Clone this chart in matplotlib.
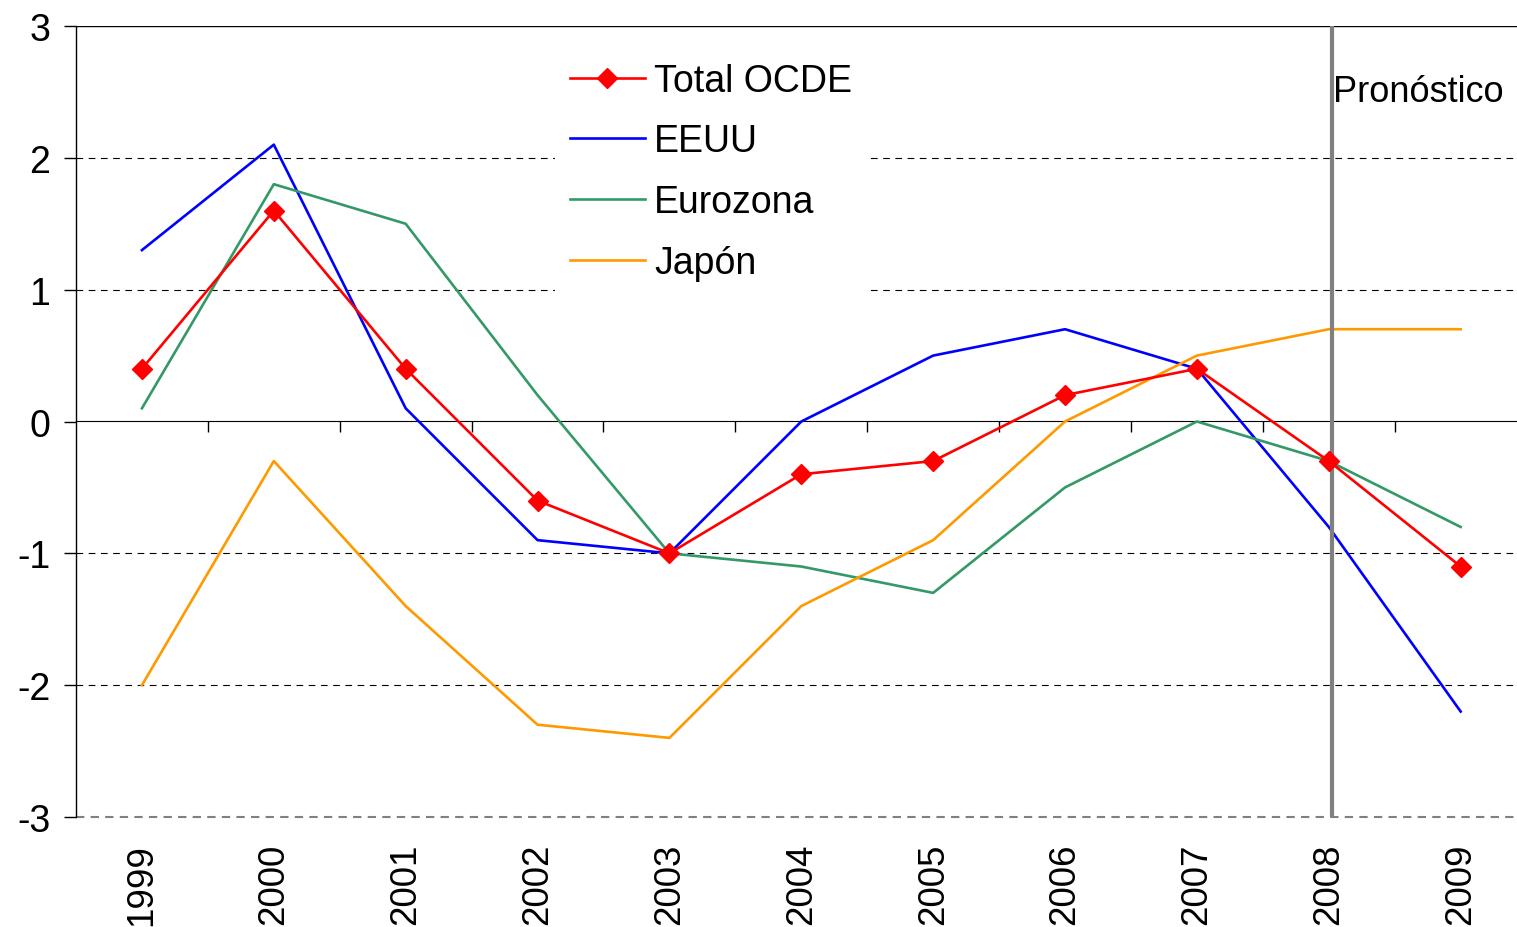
import matplotlib
matplotlib.use("Agg")
import matplotlib.pyplot as plt

years = ["1999", "2000", "2001", "2002", "2003", "2004", "2005", "2006", "2007", "2008", "2009"]
total_ocde = [0.4, 1.6, 0.4, -0.6, -1.0, -0.4, -0.3, 0.2, 0.4, -0.3, -1.1]
eeuu = [1.3, 2.1, 0.1, -0.9, -1.0, 0.0, 0.5, 0.7, 0.4, -0.8, -2.2]
eurozona = [0.1, 1.8, 1.5, 0.2, -1.0, -1.1, -1.3, -0.5, 0.0, -0.3, -0.8]
japon = [-2.0, -0.3, -1.4, -2.3, -2.4, -1.4, -0.9, 0.0, 0.5, 0.7, 0.7]
forecast_year = "2008"

plt.rcParams['font.family'] = ['Liberation Sans', 'DejaVu Sans']

W, H = 1517, 928
fig = plt.figure(figsize=(W / 100, H / 100), dpi=100)
ax = fig.add_axes([76 / W, 1 - 818 / H, 1450.6 / W, 791 / H])

x = list(range(len(years)))
ax.set_xlim(-0.5, len(years) - 0.5)
ax.set_ylim(-3, 3)

# grid lines
for v in [2, 1, -1, -2]:
    ax.axhline(v, color='black', lw=0.8, ls=(0, (6, 5)), zorder=1)
ax.axhline(3, color='black', lw=1.0, zorder=1)
ax.axhline(-3, color='#808080', lw=1.5, ls=(0, (4, 3)), zorder=1, clip_on=False)

ln1, = ax.plot(x, total_ocde, color='#FF0000', lw=1.9, marker='D', ms=10, zorder=6, label='Total OCDE')
ln2, = ax.plot(x, eeuu, color='#0000FF', lw=1.9, zorder=4, label='EEUU')
ln3, = ax.plot(x, eurozona, color='#339966', lw=1.9, zorder=4, label='Eurozona')
ln4, = ax.plot(x, japon, color='#FF9900', lw=1.9, zorder=4, label='Japón')

fi = years.index(forecast_year)
ax.axvline(fi + 0.025, color='#808080', lw=3, zorder=5)
ax.text(fi + 0.03, 2.5, 'Pronóstico', fontsize=26, ha='left', va='center')

for s in ['top', 'right', 'bottom']:
    ax.spines[s].set_visible(False)
ax.spines['left'].set_linewidth(1.0)

ax.set_yticks([-3, -2, -1, 0, 1, 2, 3])
ax.set_yticklabels(['-3', '-2', '-1', '0', '1', '2', '3'])
ax.tick_params(axis='y', direction='out', length=8.5, width=1.0, labelsize=27, pad=10)

ax.set_xticks(x)
ax.set_xticklabels(years, rotation=90, fontsize=26.5)
ax.tick_params(axis='x', length=0, pad=18.5)

# zero axis with boundary ticks
sec = ax.secondary_xaxis(0.5)
sec.set_xticks([i + 0.5 for i in range(len(years) - 1)])
sec.set_xticklabels([])
sec.tick_params(direction='in', length=8, width=1.0)
sec.spines['bottom'].set_linewidth(1.2)

leg = fig.legend(handles=[ln1, ln2, ln3, ln4], loc='upper left',
                 bbox_to_anchor=(536 / W, 1 - 30 / H), fontsize=27,
                 frameon=True, facecolor='white', edgecolor='none', framealpha=1,
                 handlelength=2.0, handletextpad=0.25, labelspacing=0.66,
                 borderpad=0.4, fancybox=False)
leg.set_zorder(3)

fig.savefig('out.png', dpi=100)
